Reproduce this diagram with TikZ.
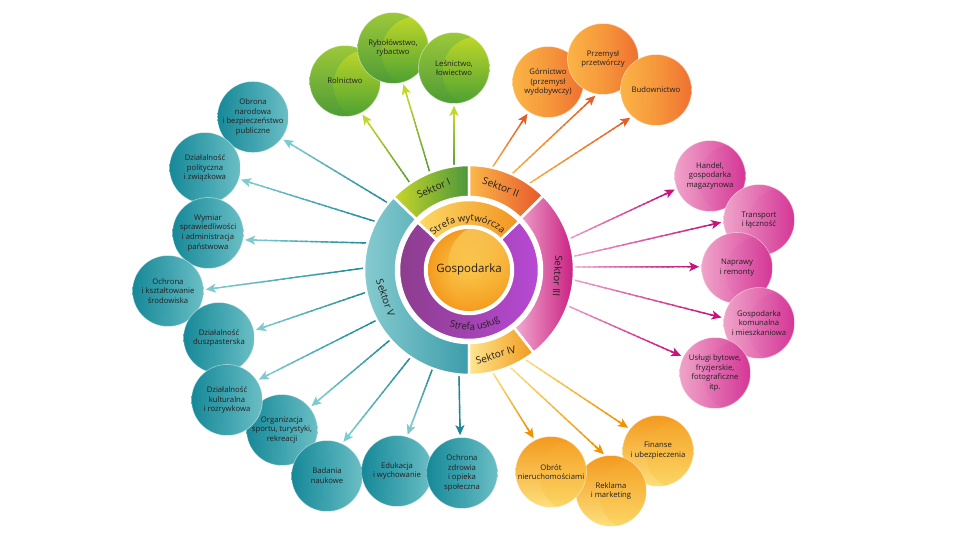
\documentclass[tikz,border=0pt]{standalone}
\usepackage{fontspec}
\setmainfont{Open Sans}
\usetikzlibrary{arrows.meta,calc,decorations.text,shadings}

\definecolor{txt}{HTML}{231F20}
% balls
\definecolor{gA}{HTML}{9CC83A}\definecolor{gB}{HTML}{4E9C35}\definecolor{gC}{HTML}{CFDE22}\definecolor{gD}{HTML}{45A033}
\definecolor{oA}{HTML}{FBB446}\definecolor{oB}{HTML}{F07A30}\definecolor{oC}{HTML}{F9A540}\definecolor{oD}{HTML}{E9532A}
\definecolor{pA}{HTML}{EFA3CA}\definecolor{pB}{HTML}{D93D97}\definecolor{pC}{HTML}{E57AB8}\definecolor{pD}{HTML}{CB1283}
\definecolor{tA}{HTML}{168898}\definecolor{tB}{HTML}{6BBFC4}\definecolor{tC}{HTML}{2C9AA9}\definecolor{tD}{HTML}{8ED1D3}
\definecolor{yA}{HTML}{F39A1E}\definecolor{yB}{HTML}{FDDF7C}\definecolor{yC}{HTML}{F6A62A}\definecolor{yD}{HTML}{FBD35A}
% rings
\definecolor{s1A}{HTML}{C9D62A}\definecolor{s1B}{HTML}{4C973A}
\definecolor{s2A}{HTML}{FBB848}\definecolor{s2B}{HTML}{E6562B}
\definecolor{s3A}{HTML}{F2ACD0}\definecolor{s3B}{HTML}{C6157C}
\definecolor{s4A}{HTML}{FDE68D}\definecolor{s4B}{HTML}{F29A1F}
\definecolor{s5A}{HTML}{8DD0D3}\definecolor{s5B}{HTML}{3D9DAB}
\definecolor{suA}{HTML}{8A3C89}\definecolor{suB}{HTML}{B94AD8}
\definecolor{swA}{HTML}{FCDA66}\definecolor{swB}{HTML}{F39321}
\definecolor{gosA}{HTML}{FCD050}\definecolor{gosB}{HTML}{F39419}
\definecolor{gosC}{HTML}{FDE27A}\definecolor{gosD}{HTML}{F5A320}
% arrows
\definecolor{agS}{HTML}{4E9A36}\definecolor{agE}{HTML}{C3D72A}
\definecolor{aoS}{HTML}{FBB545}\definecolor{aoE}{HTML}{E2602A}
\definecolor{apS}{HTML}{F0A8CC}\definecolor{apE}{HTML}{C8137E}
\definecolor{atS}{HTML}{1B8797}\definecolor{atE}{HTML}{7DCBCE}
\definecolor{ayS}{HTML}{FCE38A}\definecolor{ayE}{HTML}{F39200}

\newcommand{\ballfont}{\fontsize{7.7}{9.8}\selectfont}
\newcommand{\sekfont}{\fontsize{10}{12}\selectfont}
\newcommand{\strfont}{\fontsize{9.5}{11}\selectfont}
\newcommand{\gosfont}{\fontsize{11.5}{13}\selectfont}

\newcommand{\ballpic}[2]{%
  \shade[#1] (path picture bounding box.south west) rectangle (path picture bounding box.north east);
  \shade[#2] ([xshift=24pt,yshift=-4pt]path picture bounding box.center) circle (35.5);}

\newcommand{\annseg}[5]{%
  \shadedraw[draw=white,line width=2.5pt,#1] (#2:#5) arc[start angle=#2,end angle=#3,radius=#5]
    -- (#3:#4) arc[start angle=#3,end angle=#2,radius=#4] -- cycle;}

\newcommand{\grarrow}[4]{%
  \path (#1) -- (#2) coordinate[pos=0] (ga) coordinate[pos=1] (gb);
  \coordinate (gs) at ($(ga)!-6pt!(gb)$);
  \coordinate (ge) at ($(gb)!2pt!(ga)$);
  \coordinate (gm) at ($(ge)!6pt!(gs)$);
  \foreach \k in {0,...,23}{
    \pgfmathsetmacro\pa{\k/24}
    \pgfmathsetmacro\pb{min((\k+1.4)/24,1)}
    \pgfmathtruncatemacro\pc{100-\k*100/23}
    \draw[line width=1.4pt,color=#3!\pc!#4] ($(gs)!\pa!(gm)$) -- ($(gs)!\pb!(gm)$);
  }
  \draw[arrowtip,color=#4] ($(ge)!12pt!(gs)$) -- (ge);}

\tikzset{
  arrowtip/.style={-{Stealth[length=10pt,width=9pt,inset=2.5pt]},line width=1.4pt},
  ballbase/.style={circle,minimum size=71pt,inner sep=0pt,align=center,font=\ballfont,
    text=txt,draw=white,draw opacity=0.45,line width=0.7pt},
  gball/.style={ballbase,path picture={\ballpic{top color=gA,bottom color=gB}{top color=gC,bottom color=gD,opacity=0.7}}},
  oball/.style={ballbase,path picture={\ballpic{left color=oA,right color=oB}{left color=oC,right color=oD,opacity=0.8}}},
  pball/.style={ballbase,path picture={\ballpic{left color=pA,right color=pB}{left color=pC,right color=pD,opacity=0.8}}},
  tball/.style={ballbase,path picture={\ballpic{left color=tA,right color=tB}{left color=tC,right color=tD,opacity=0.5}}},
  yball/.style={ballbase,path picture={\ballpic{top color=yA,bottom color=yB}{top color=yC,bottom color=yD,opacity=0.6}}},
  sek/.style={font=\sekfont,text=txt,inner sep=0pt},
}

\begin{document}
\begin{tikzpicture}[x=1pt,y=1pt]
\useasboundingbox (0,0) rectangle (960,540);
\fill[white] (0,0) rectangle (960,540);

% ---- balls ----
\node[gball] (rol) at (345,459) {Rolnictwo};
\node[gball] (ryb) at (393,492) {Rybołówstwo,\\rybactwo};
\node[gball] (les) at (454,472) {Leśnictwo,\\łowiectwo};

\node[oball] (gor) at (548,458) {Górnictwo\\(przemysł\\wydobywczy)};
\node[oball] (prz) at (603,481) {Przemysł\\przetwórczy};
\node[oball] (bud) at (656,450) {Budownictwo};

\node[pball] (han) at (710,364) {Handel,\\gospodarka\\magazynowa};
\node[pball] (tra) at (759,320) {Transport\\i łączność};
\node[pball] (nap) at (737,272) {Naprawy\\i remonty};
\node[pball] (gko) at (759,217) {Gospodarka\\komunalna\\i mieszkaniowa};
\node[pball] (usl) at (715,167) {Usługi bytowe,\\fryzjerskie,\\fotograficzne\\itp.};

\node[tball] (obr) at (253,423) {Obrona\\narodowa\\i bezpieczeństwo\\publiczne};
\node[tball] (pol) at (205,372) {Działalność\\polityczna\\i związkowa};
\node[tball] (wym) at (208,307) {Wymiar\\sprawiedliwości\\i administracja\\państwowa};
\node[tball] (och) at (168,249) {Ochrona\\i kształtowanie\\środowiska};
\node[tball] (dus) at (219,202) {Działalność\\duszpasterska};
\node[tball] (org) at (282,110) {Organizacja\\sportu, turystyki,\\rekreacji};
\node[tball] (kul) at (227,140) {Działalność\\kulturalna\\i rozrywkowa};
\node[tball] (bad) at (327,64) {Badania\\naukowe};
\node[tball] (edu) at (397,69) {Edukacja\\i wychowanie};
\node[tball] (ozd) at (462,67) {Ochrona\\zdrowia\\i opieka\\społeczna};

\node[yball] (fin) at (658,89) {Finanse\\i ubezpieczenia};
\node[yball] (rek) at (611,49) {Reklama\\i marketing};
\node[yball] (nie) at (551,68) {Obrót\\nieruchomościami};

% ---- arrow tails ----
\coordinate (tg1) at (410,357);
\coordinate (tg2) at (430,367);
\coordinate (tg3) at (454,372);
\coordinate (to1) at (492,372);
\coordinate (to2) at (513,367);
\coordinate (to3) at (530,357);
\coordinate (tp1) at (569,301);
\coordinate (tp2) at (572.5,283.4);
\coordinate (tp3) at (573,273);
\coordinate (tp4) at (572.5,260.4);
\coordinate (tp5) at (567,234.5);
\coordinate (tt1) at (388,337);
\coordinate (tt2) at (377,318);
\coordinate (tt3) at (368,297);
\coordinate (tt4) at (365,272);
\coordinate (tt5) at (367,248);
\coordinate (tt6) at (377,220);
\coordinate (tt7) at (390,200);
\coordinate (tt8) at (410,182);
\coordinate (tt9) at (432,170);
\coordinate (tt10) at (459,165);
\coordinate (ty1) at (493,167);
\coordinate (ty2) at (510,173);
\coordinate (ty3) at (523,182);

% ---- arrows ----
\grarrow{tg1}{rol.297}{agS}{agE}
\grarrow{tg2}{ryb.286}{agS}{agE}
\grarrow{tg3}{les.270}{agS}{agE}
\grarrow{to1}{gor.237}{aoS}{aoE}
\grarrow{to2}{prz.260}{aoS}{aoE}
\grarrow{to3}{bud.228}{aoS}{aoE}
\grarrow{tp1}{han.201}{apS}{apE}
\grarrow{tp2}{tra.183}{apS}{apE}
\grarrow{tp3}{nap.178}{apS}{apE}
\grarrow{tp4}{gko.172}{apS}{apE}
\grarrow{tp5}{usl.153}{apS}{apE}
\grarrow{tt1}{obr.323}{atS}{atE}
\grarrow{tt2}{pol.342}{atS}{atE}
\grarrow{tt3}{wym.349}{atS}{atE}
\grarrow{tt4}{och.2}{atS}{atE}
\grarrow{tt5}{dus.12}{atS}{atE}
\grarrow{tt6}{kul.33}{atS}{atE}
\grarrow{tt7}{org.39}{atS}{atE}
\grarrow{tt8}{bad.65}{atS}{atE}
\grarrow{tt9}{edu.74}{atS}{atE}
\grarrow{tt10}{ozd.93}{atS}{atS}
\grarrow{ty1}{nie.117}{ayS}{ayE}
\grarrow{ty2}{rek.99}{ayS}{ayE}
\grarrow{ty3}{fin.142}{ayS}{ayE}

% ---- central rings ----
\begin{scope}[shift={(469,270)}]
\annseg{left color=s5A,right color=s5B}{136}{270}{73}{105}
\annseg{left color=s1A,right color=s1B}{90}{136}{73}{105}
\annseg{left color=s2A,right color=s2B}{45}{90}{73}{105}
\annseg{left color=s3A,right color=s3B}{-52}{45}{73}{105}
\annseg{left color=s4A,right color=s4B}{-90}{-52}{73}{105}
\annseg{left color=suA,right color=suB}{137}{404}{44}{70}
\annseg{left color=swA,right color=swB}{44}{137}{44}{70}

\node[circle,minimum size=82pt,inner sep=0pt,font=\gosfont,text=txt,
  path picture={\shade[inner color=gosA,outer color=gosB] (path picture bounding box.center) circle (46);
    \shade[top color=gosC,bottom color=gosD,opacity=0.55] ([xshift=20pt,yshift=6pt]path picture bounding box.center) circle (41);}]
  (gosp) at (0,0) {Gospodarka};

\node[sek,rotate=23.5] (l1) at (113.5:89) {Sektor I};
\node[sek,rotate=-21] (l2) at (69:89) {Sektor II};
\node[sek,rotate=-94] (l3) at (-4:89) {Sektor III};
\node[sek,rotate=17.4] (l4) at (-72.6:89) {Sektor IV};
\node[sek,rotate=-71.4] (l5) at (198.6:88) {Sektor V};

\path[decorate,decoration={text along path,text={|\strfont|Strefa wytwórcza},text align=center,text color=txt}]
  (152:49) arc[start angle=152,end angle=32,radius=49];
\path[decorate,decoration={text along path,text={|\strfont|Strefa usług},text align=center,text color=txt}]
  (215:60) arc[start angle=215,end angle=337,radius=60];
\end{scope}
\end{tikzpicture}
\end{document}
